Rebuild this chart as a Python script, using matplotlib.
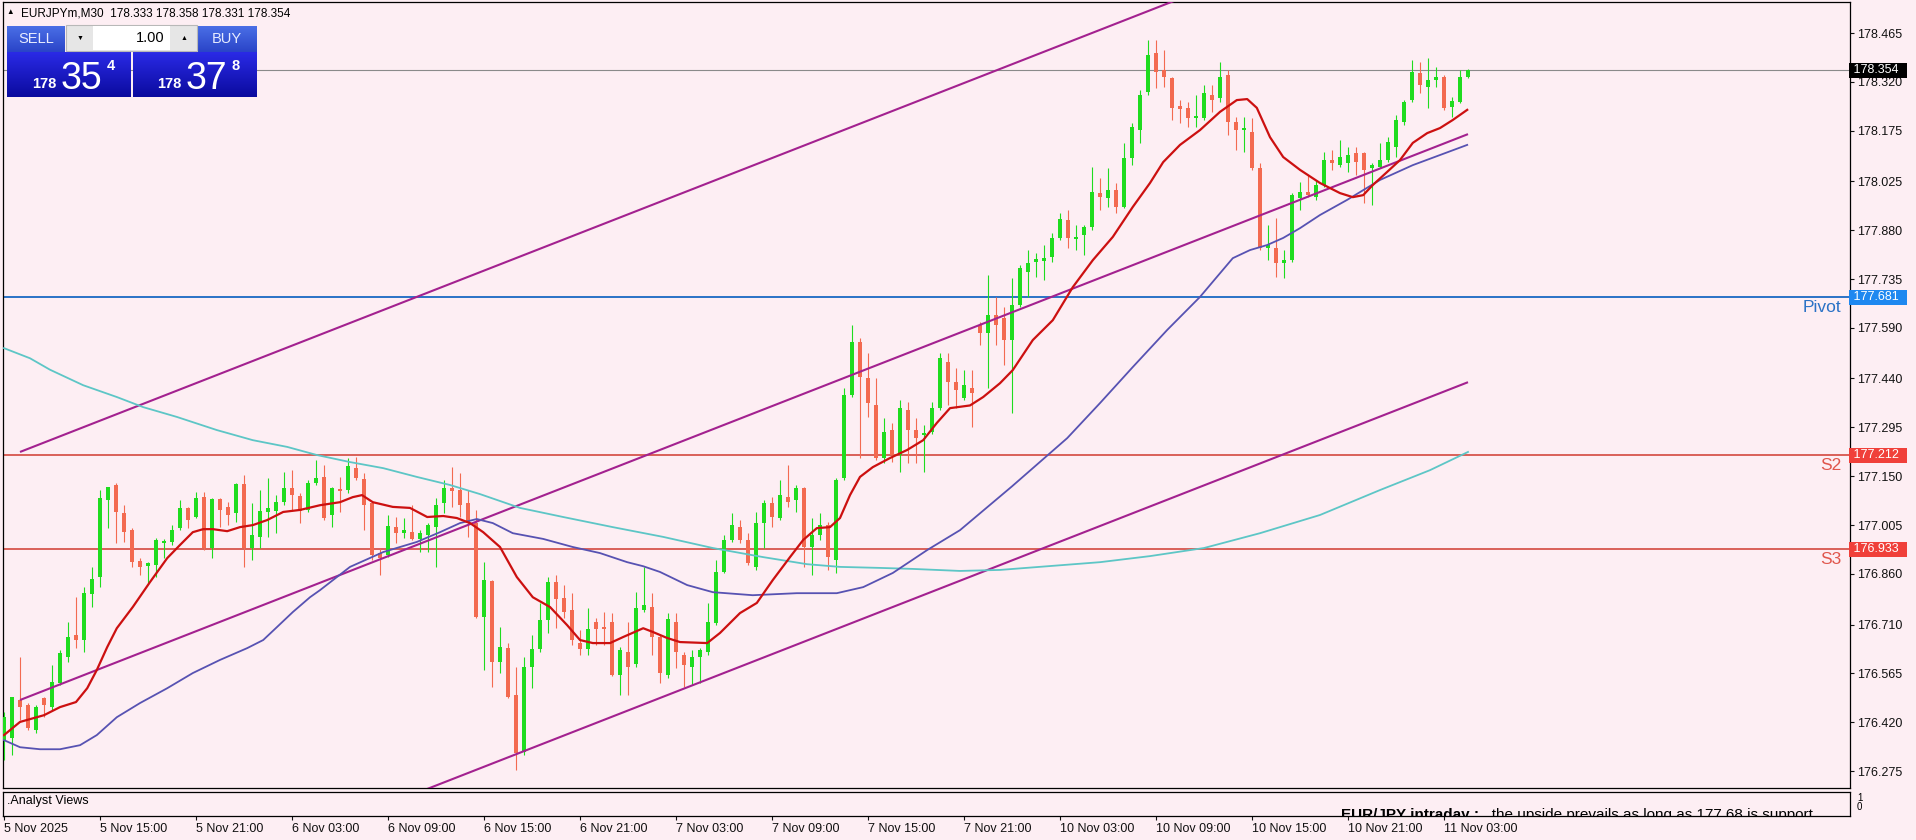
import numpy as np
import matplotlib.pyplot as plt
from matplotlib.patches import Rectangle
from matplotlib.colors import LinearSegmentedColormap
import matplotlib.transforms as mtransforms

plt.rcParams['font.family'] = ['Liberation Sans', 'DejaVu Sans']

# EURJPYm M30 bars, 5 Nov 09:00 .. 11 Nov 04:30 (weekend skipped)
opens = [176.367, 176.373, 176.486, 176.471, 176.397, 176.492, 176.465, 176.536, 176.613, 176.679,
         176.664, 176.800, 176.851, 177.079, 177.124, 177.041, 176.990, 176.898, 176.883, 176.886,
         176.952, 176.955, 176.996, 177.056, 177.029, 177.088, 176.937, 177.082, 177.059, 177.041,
         177.127, 176.937, 176.970, 177.044, 177.047, 177.073, 177.115, 177.091, 177.050, 177.130,
         177.148, 177.035, 177.112, 177.109, 177.174, 177.142, 177.070, 176.922, 176.916, 176.999,
         176.981, 176.984, 176.964, 176.975, 176.999, 177.070, 177.115, 177.109, 177.070, 177.011,
         176.732, 176.839, 176.599, 176.640, 176.501, 176.332, 176.584, 176.637, 176.723, 176.836,
         176.789, 176.753, 176.655, 176.637, 176.717, 176.702, 176.717, 176.560, 176.628, 176.593,
         176.753, 176.762, 176.673, 176.560, 176.717, 176.619, 176.584, 176.613, 176.628, 176.714,
         176.866, 176.961, 176.999, 176.961, 176.881, 177.011, 177.070, 177.026, 177.088, 177.079,
         177.115, 176.940, 176.975, 177.005, 176.901, 177.145, 177.391, 177.548, 177.441, 177.361,
         177.204, 177.287, 177.213, 177.346, 177.287, 177.272, 177.281, 177.352, 177.489, 177.429,
         177.382, 177.412, 177.599, 177.575, 177.628, 177.619, 177.554, 177.658, 177.756, 177.786,
         177.789, 177.800, 177.857, 177.910, 177.854, 177.866, 177.889, 177.990, 177.975, 177.999,
         177.949, 178.094, 178.177, 178.290, 178.406, 178.355, 178.332, 178.248, 178.243, 178.213,
         178.213, 178.281, 178.272, 178.340, 178.201, 178.177, 178.171, 178.064, 177.827, 177.827,
         177.783, 177.791, 177.975, 177.993, 177.978, 178.014, 178.088, 178.073, 178.079, 178.109,
         178.109, 178.064, 178.067, 178.088, 178.127, 178.201, 178.266, 178.346, 178.305, 178.326,
         178.335, 178.245, 178.260, 178.333]
highs = [176.450, 176.495, 176.613, 176.477, 176.471, 176.495, 176.590, 176.634, 176.717, 176.791,
         176.821, 176.881, 177.109, 177.118, 177.130, 177.064, 176.996, 176.907, 176.895, 176.967,
         176.964, 177.005, 177.079, 177.059, 177.103, 177.103, 177.085, 177.085, 177.073, 177.130,
         177.154, 177.070, 177.109, 177.145, 177.094, 177.162, 177.168, 177.100, 177.139, 177.198,
         177.183, 177.118, 177.148, 177.204, 177.207, 177.159, 177.073, 176.937, 177.035, 177.029,
         177.026, 177.064, 176.990, 177.011, 177.085, 177.139, 177.177, 177.159, 177.109, 177.050,
         176.895, 176.842, 176.702, 176.655, 176.584, 176.613, 176.679, 176.774, 176.851, 176.857,
         176.827, 176.803, 176.694, 176.759, 176.729, 176.747, 176.744, 176.643, 176.717, 176.806,
         176.881, 176.803, 176.679, 176.744, 176.744, 176.628, 176.634, 176.640, 176.774, 176.901,
         176.975, 177.041, 177.020, 176.981, 177.044, 177.079, 177.088, 177.139, 177.183, 177.124,
         177.118, 177.026, 177.041, 177.014, 177.145, 177.412, 177.599, 177.560, 177.516, 177.441,
         177.323, 177.308, 177.376, 177.370, 177.323, 177.302, 177.370, 177.516, 177.516, 177.471,
         177.465, 177.465, 177.608, 177.747, 177.682, 177.652, 177.738, 177.777, 177.821, 177.812,
         177.836, 177.872, 177.931, 177.940, 177.895, 177.895, 178.067, 178.035, 178.064, 178.020,
         178.139, 178.198, 178.296, 178.444, 178.444, 178.415, 178.335, 178.266, 178.260, 178.281,
         178.311, 178.311, 178.379, 178.355, 178.216, 178.216, 178.213, 178.079, 177.895, 177.916,
         177.821, 177.990, 178.023, 178.044, 178.029, 178.112, 178.118, 178.148, 178.127, 178.127,
         178.112, 178.079, 178.139, 178.156, 178.222, 178.266, 178.385, 178.379, 178.391, 178.364,
         178.340, 178.275, 178.355, 178.358]
lows = [176.308, 176.323, 176.427, 176.397, 176.388, 176.435, 176.456, 176.530, 176.599, 176.640,
        176.628, 176.762, 176.821, 176.996, 176.952, 176.955, 176.881, 176.857, 176.833, 176.851,
        176.907, 176.946, 176.990, 176.996, 177.026, 176.931, 176.907, 176.999, 177.005, 177.014,
        176.881, 176.901, 176.937, 176.970, 176.981, 177.064, 177.050, 177.011, 177.044, 177.124,
        177.020, 176.999, 177.044, 177.100, 177.139, 176.990, 176.901, 176.857, 176.910, 176.952,
        176.967, 176.961, 176.925, 176.925, 176.881, 177.041, 177.059, 177.029, 176.970, 176.729,
        176.575, 176.524, 176.566, 176.492, 176.278, 176.323, 176.521, 176.628, 176.685, 176.699,
        176.729, 176.649, 176.619, 176.619, 176.649, 176.649, 176.557, 176.501, 176.501, 176.584,
        176.747, 176.619, 176.536, 176.551, 176.581, 176.524, 176.530, 176.536, 176.619, 176.708,
        176.863, 176.955, 176.952, 176.886, 176.872, 176.937, 176.999, 177.020, 177.059, 177.044,
        176.881, 176.857, 176.961, 176.872, 176.863, 177.139, 177.385, 177.204, 177.326, 177.198,
        177.189, 177.192, 177.162, 177.189, 177.189, 177.162, 177.275, 177.346, 177.361, 177.352,
        177.376, 177.296, 177.539, 177.412, 177.540, 177.480, 177.337, 177.652, 177.682, 177.741,
        177.732, 177.786, 177.851, 177.827, 177.821, 177.806, 177.881, 177.940, 177.949, 177.931,
        177.946, 178.073, 178.139, 178.281, 178.302, 178.305, 178.207, 178.198, 178.186, 178.186,
        178.207, 178.231, 178.260, 178.162, 178.118, 178.112, 178.059, 177.821, 177.791, 177.741,
        177.738, 177.786, 177.940, 177.978, 177.970, 178.008, 178.059, 178.067, 178.053, 178.044,
        177.961, 177.955, 178.064, 178.082, 178.097, 178.192, 178.260, 178.287, 178.243, 178.305,
        178.237, 178.216, 178.257, 178.331]
closes = [176.435, 176.495, 176.465, 176.403, 176.465, 176.471, 176.539, 176.625, 176.673, 176.664,
          176.803, 176.845, 177.085, 177.118, 177.044, 176.984, 176.895, 176.881, 176.892, 176.961,
          176.958, 176.990, 177.056, 177.020, 177.085, 176.937, 177.082, 177.050, 177.035, 177.127,
          176.937, 176.975, 177.047, 177.056, 177.073, 177.115, 177.094, 177.047, 177.130, 177.145,
          177.026, 177.115, 177.106, 177.180, 177.145, 177.064, 176.916, 176.907, 177.002, 176.981,
          176.990, 176.964, 176.981, 177.005, 177.064, 177.115, 177.106, 177.064, 177.011, 176.732,
          176.842, 176.599, 176.643, 176.495, 176.329, 176.584, 176.637, 176.723, 176.836, 176.786,
          176.747, 176.664, 176.637, 176.697, 176.697, 176.697, 176.560, 176.634, 176.584, 176.759,
          176.768, 176.673, 176.566, 176.726, 176.628, 176.590, 176.613, 176.634, 176.717, 176.866,
          176.961, 177.005, 176.961, 176.892, 177.011, 177.070, 177.029, 177.094, 177.073, 177.115,
          176.940, 176.975, 177.005, 176.910, 177.139, 177.391, 177.548, 177.444, 177.367, 177.204,
          177.281, 177.213, 177.352, 177.287, 177.263, 177.278, 177.352, 177.501, 177.429, 177.406,
          177.421, 177.397, 177.575, 177.628, 177.600, 177.554, 177.658, 177.768, 177.783, 177.794,
          177.797, 177.857, 177.913, 177.857, 177.860, 177.889, 177.993, 177.978, 177.999, 177.949,
          178.094, 178.186, 178.281, 178.400, 178.349, 178.335, 178.243, 178.240, 178.213, 178.219,
          178.287, 178.266, 178.335, 178.201, 178.177, 178.183, 178.064, 177.827, 177.836, 177.783,
          177.791, 177.984, 177.993, 177.984, 178.014, 178.088, 178.079, 178.097, 178.103, 178.082,
          178.059, 178.073, 178.088, 178.142, 178.207, 178.260, 178.349, 178.311, 178.326, 178.335,
          178.243, 178.263, 178.335, 178.354]

# moving averages (bar index, price)
fast_ma_bars = [0, 2, 5, 7, 9, 10.4, 11.6, 12.9, 14.1, 16.1, 18.25, 20.4, 22, 23.6, 24.9, 26.1, 27.9, 29.5,
                31.1, 32.9, 34.9, 37, 39.5, 42, 43.6, 44.75, 46.1, 48.6, 50.75, 52.9, 54.9, 56.6, 58.25, 59.9,
                62, 64.1, 66.1, 68.25, 70.4, 72, 73.6, 75.75, 77.4, 79.9, 81.1, 82.9, 84.5, 87.9, 89.5, 92,
                94.1, 96.1, 98.25, 99.9, 101.6, 103.25, 104.5, 105.75, 107, 108.6, 110.75, 112.9, 114.9,
                116.6, 118.25, 120.75, 122.4, 124.5, 126.1, 128.6, 131.1, 133.6, 136.1, 138.6, 141.1,
                143.25, 144.9, 147, 149.5, 152, 154.1, 155.4, 156.6, 158.25, 159.9, 162, 164.5, 167, 168.6,
                169.9, 171.1, 172.9, 174.5, 176.1, 177.9, 179.5, 181.1, 182.9]
fast_ma = [176.382, 176.421, 176.441, 176.465, 176.480, 176.521, 176.575, 176.643, 176.699, 176.762,
           176.836, 176.907, 176.946, 176.984, 176.993, 176.993, 176.987, 176.999, 177.005, 177.020,
           177.044, 177.050, 177.064, 177.073, 177.088, 177.094, 177.073, 177.059, 177.056, 177.029,
           177.032, 177.026, 177.011, 176.984, 176.940, 176.851, 176.791, 176.762, 176.708, 176.664,
           176.655, 176.655, 176.673, 176.699, 176.688, 176.670, 176.658, 176.655, 176.685, 176.744,
           176.774, 176.842, 176.910, 176.961, 176.996, 176.999, 177.026, 177.094, 177.148, 177.177,
           177.204, 177.228, 177.257, 177.308, 177.352, 177.360, 177.385, 177.426, 177.465, 177.554,
           177.613, 177.711, 177.791, 177.860, 177.949, 178.020, 178.082, 178.133, 178.177, 178.231,
           178.266, 178.269, 178.243, 178.156, 178.097, 178.059, 178.020, 177.990, 177.978, 177.984,
           178.014, 178.053, 178.088, 178.139, 178.168, 178.183, 178.207, 178.237]

mid_ma_bars = [0, 2, 4.5, 7, 9.5, 11.6, 14.1, 17, 20.4, 23.6, 27, 30.4, 32.4, 34.1, 36.1, 38.25, 39.5,
               43.25, 47.4, 51.6, 54.5, 57, 59.1, 61.1, 63.6, 67.4, 71.1, 74.5, 77.9, 79.9, 82, 85.4,
               88.6, 93.6, 99.1, 104.1, 107.4, 111.1, 115.4, 119.5, 126, 132.9, 137, 141.1, 145.4, 149.5,
               151.6, 153.6, 155.75, 157.9, 159.9, 162, 164.5, 167.9, 172, 176.1, 179.5, 182.9]
mid_ma = [176.367, 176.346, 176.340, 176.340, 176.352, 176.382, 176.435, 176.477, 176.521, 176.566,
          176.605, 176.640, 176.664, 176.702, 176.747, 176.791, 176.812, 176.881, 176.925, 176.955,
          176.984, 177.011, 177.023, 177.011, 176.981, 176.964, 176.940, 176.922, 176.895, 176.883,
          176.866, 176.827, 176.806, 176.797, 176.803, 176.803, 176.821, 176.863, 176.931, 176.990,
          177.120, 177.263, 177.367, 177.474, 177.584, 177.682, 177.741, 177.797, 177.821, 177.836,
          177.857, 177.886, 177.925, 177.970, 178.029, 178.073, 178.103, 178.133]

slow_ma_bars = [0, 3.25, 5.75, 9.9, 14.1, 17.4, 21.6, 26.6, 31.1, 35.4, 39.1, 43.25, 47.4, 51.6, 55.75,
                59.5, 64.5, 69.9, 76.1, 82.4, 88.6, 94.9, 100.4, 104.5, 109.5, 113.6, 119.5, 124.5, 137,
                143.25, 150, 157, 164.5, 172, 178.25, 183]
slow_ma = [177.530, 177.500, 177.466, 177.420, 177.385, 177.355, 177.326, 177.287, 177.257, 177.237,
           177.213, 177.192, 177.174, 177.148, 177.124, 177.097, 177.056, 177.029, 176.999, 176.970,
           176.937, 176.910, 176.889, 176.881, 176.878, 176.875, 176.869, 176.872, 176.895, 176.913,
           176.937, 176.981, 177.035, 177.109, 177.168, 177.222]

# regression channel: anchor bars, centre-line prices, half width
channel_bars = [2, 183]
channel_mid = [176.486, 178.165]
channel_half = 0.736

pivot = 177.681
s2 = 177.212
s3 = 176.933
ask_price = 178.378

tick_bars = [0, 12, 24, 36, 48, 60, 72, 84, 96, 108, 120, 132, 144, 156, 168, 180]
tick_labels = ['5 Nov 2025', '5 Nov 15:00', '5 Nov 21:00', '6 Nov 03:00', '6 Nov 09:00',
               '6 Nov 15:00', '6 Nov 21:00', '7 Nov 03:00', '7 Nov 09:00', '7 Nov 15:00',
               '7 Nov 21:00', '10 Nov 03:00', '10 Nov 09:00', '10 Nov 15:00', '10 Nov 21:00',
               '11 Nov 03:00']
price_ticks = [178.465, 178.320, 178.175, 178.025, 177.880, 177.735, 177.590, 177.440, 177.295,
               177.150, 177.005, 176.860, 176.710, 176.565, 176.420, 176.275]

W, H = 1916, 840
BG = '#fdeef3'
BULL = '#1fdc1f'
BEAR = '#f36a50'

fig = plt.figure(figsize=(W / 100, H / 100), dpi=100, facecolor=BG)
ax = fig.add_axes([3 / W, 52 / H, 1847 / W, 786 / H], facecolor=BG)

x = np.arange(len(opens))
o = np.array(opens); h = np.array(highs); l = np.array(lows); c = np.array(closes)
up = c >= o
cols = np.where(up, BULL, BEAR)

ax.vlines(x, l, h, colors=cols, lw=0.8, zorder=3)
body = np.maximum(np.abs(c - o), 0.004)
ax.bar(x, body, bottom=np.minimum(o, c), width=0.62, color=cols, lw=0, zorder=4)

# horizontal levels
ax.axhline(closes[-1], color='#8a8a8a', lw=0.8, zorder=2)
ax.axhline(pivot, color='#2a72c6', lw=1.4, zorder=2)
ax.axhline(s2, color='#d4483e', lw=1.2, zorder=2)
ax.axhline(s3, color='#d4483e', lw=1.2, zorder=2)

# channel
cb = np.array(channel_bars, dtype=float)
cm = np.array(channel_mid)
for off in (channel_half, 0.0, -channel_half):
    ax.plot(cb, cm + off, color='#a3218f', lw=1.5, zorder=5, solid_capstyle='butt')

# moving averages
ax.plot(slow_ma_bars, slow_ma, color='#5dc6c6', lw=1.3, zorder=5)
ax.plot(mid_ma_bars, mid_ma, color='#5752b2', lw=1.3, zorder=5)
ax.plot(fast_ma_bars, fast_ma, color='#cc1010', lw=1.6, zorder=6)

ax.set_xlim(-0.125, 230.75)
ax.set_ylim(176.225, 178.557)
ax.set_xticks([])
ax.yaxis.tick_right()
ax.set_yticks(price_ticks)
ax.set_yticklabels(['%.3f' % v for v in price_ticks])
ax.tick_params(axis='y', direction='out', length=3, width=0.8, pad=2, labelsize=9,
               colors='#111111')
for sp in ax.spines.values():
    sp.set_color('black')
    sp.set_linewidth(0.9)

# level names
lvltr = mtransforms.blended_transform_factory(ax.transAxes, ax.transData)
ax.text(0.9955, pivot - 0.008, 'Pivot', transform=lvltr, ha='right', va='top', fontsize=12.5,
        color='#2a72c6')
for lvl, name in ((s2, 'S2'), (s3, 'S3')):
    ax.text(0.9955, lvl - 0.008, name, transform=lvltr, ha='right', va='top', fontsize=12.5,
            color='#e0564c')

# price tags on the scale
for val, fc in ((closes[-1], '#000000'), (pivot, '#1e88f0'), (s2, '#f0403a'), (s3, '#f0403a')):
    ax.text(1.0, val, ' %.3f  ' % val, transform=lvltr, ha='left', va='center', fontsize=9,
            color='white', zorder=20, clip_on=False,
            bbox=dict(boxstyle='square,pad=0.12', fc=fc, ec='none'))

# analyst view strip
ax2 = fig.add_axes([3 / W, 24 / H, 1847 / W, 24 / H], facecolor=BG)
ax2.set_xlim(-0.125, 230.75)
ax2.set_ylim(0, 1)
ax2.set_yticks([])
ax2.set_xticks(tick_bars)
ax2.set_xticklabels(tick_labels, ha='left')
ax2.tick_params(axis='x', direction='out', length=3, width=0.8, pad=2, labelsize=9, colors='#111111')
for sp in ax2.spines.values():
    sp.set_color('black')
    sp.set_linewidth(0.9)
ax2.text(0.002, 0.62, '.Analyst Views', transform=ax2.transAxes, fontsize=9, va='center', ha='left')
t1 = ax2.text(0.7246, -0.12, 'EUR/JPY intraday :', transform=ax2.transAxes, fontsize=11,
              fontweight='bold', va='baseline', ha='left', clip_on=True)
ax2.annotate('   the upside prevails as long as 177.68 is support', xy=(1, 0), xycoords=t1,
             fontsize=11, va='bottom', ha='left', annotation_clip=False, clip_on=True)
fig.text(1857 / W, 1 - 798 / H, '1', fontsize=7, va='center')
fig.text(1857 / W, 1 - 807 / H, '0', fontsize=7, va='center')

# one-click trading panel and header
ui = fig.add_axes([0, 0, 1, 1], zorder=10)
ui.patch.set_alpha(0)
cm_top = LinearSegmentedColormap.from_list('t', ['#4a6fe6', '#2a44c8'])
cm_big = LinearSegmentedColormap.from_list('b', ['#2a2ae6', '#0b0b9e'])
grad = np.linspace(0, 1, 64).reshape(-1, 1)
for x0, x1 in ((7, 65), (198, 257)):
    ui.imshow(grad, extent=(x0, x1, 52, 26), cmap=cm_top, aspect='auto', zorder=1)
for x0, x1 in ((7, 131), (133, 257)):
    ui.imshow(grad, extent=(x0, x1, 97, 52), cmap=cm_big, aspect='auto', zorder=1)
ui.add_patch(Rectangle((66, 25), 131, 26, fc='#e6e6e6', ec='#b8b8b8', lw=0.8, zorder=2))
ui.add_patch(Rectangle((93, 26), 77, 24, fc='white', ec='none', zorder=3))
ui.text(80, 38, '\u25bc', fontsize=5, ha='center', va='center', zorder=4)
ui.text(184, 38, '\u25b2', fontsize=5, ha='center', va='center', zorder=4)
ui.text(165, 38, '1.00', fontsize=10.5, ha='right', va='center', zorder=4)
ui.text(36, 39, 'SELL', fontsize=10.5, color='#e8ecff', ha='center', va='center', zorder=4)
ui.text(227, 39, 'BUY', fontsize=10.5, color='#e8ecff', ha='center', va='center', zorder=4)

def price_box(xs, price):
    s = '%.3f' % price
    ui.text(xs, 88, s[:3], fontsize=10.5, fontweight='bold', color='white', ha='left', va='baseline', zorder=4)
    ui.text(xs + 29, 89, s[4:6], fontsize=27, color='white', ha='left', va='baseline', zorder=4)
    ui.text(xs + 75, 70, s[6], fontsize=10.5, fontweight='bold', color='white', ha='left', va='baseline', zorder=4)

price_box(32, closes[-1])
price_box(157, ask_price)

ui.text(6, 13, '\u25b2', fontsize=5.5, ha='left', va='center')
ui.text(21, 13, 'EURJPYm,M30  %.3f %.3f %.3f %.3f' % (opens[-1], highs[-1], lows[-1], closes[-1]),
        fontsize=8.5, ha='left', va='center')
ui.set_xlim(0, W)
ui.set_ylim(H, 0)
ui.axis('off')

fig.savefig('out.png', dpi=100, facecolor=BG)
